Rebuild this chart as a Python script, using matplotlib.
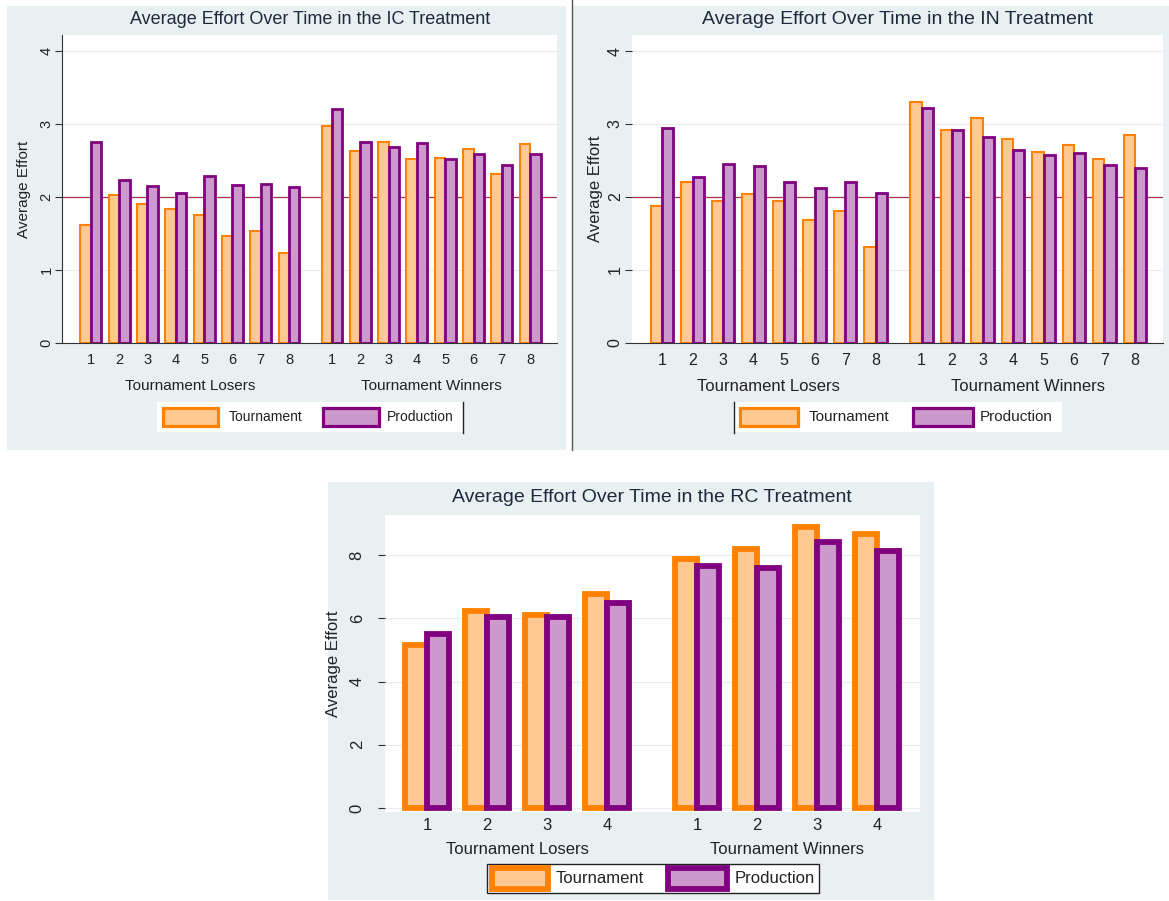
import matplotlib
matplotlib.use("Agg")
import matplotlib.pyplot as plt
import matplotlib.transforms as mtransforms
from matplotlib.patches import Rectangle
from matplotlib.lines import Line2D
import numpy as np

plt.rcParams["font.family"] = ["Liberation Sans", "DejaVu Sans"]

# ---- data -------------------------------------------------------------
periods_8 = [1, 2, 3, 4, 5, 6, 7, 8]
periods_4 = [1, 2, 3, 4]
group_names = ["Tournament Losers", "Tournament Winners"]
series_names = ["Tournament", "Production"]

ic_tourn_losers = [1.62, 2.03, 1.91, 1.84, 1.76, 1.46, 1.53, 1.23]
ic_prod_losers = [2.76, 2.23, 2.15, 2.06, 2.29, 2.16, 2.18, 2.14]
ic_tourn_winners = [2.98, 2.63, 2.76, 2.52, 2.54, 2.66, 2.32, 2.73]
ic_prod_winners = [3.21, 2.76, 2.69, 2.74, 2.52, 2.59, 2.44, 2.59]

in_tourn_losers = [1.88, 2.21, 1.94, 2.04, 1.94, 1.68, 1.81, 1.32]
in_prod_losers = [2.94, 2.28, 2.45, 2.42, 2.21, 2.13, 2.21, 2.05]
in_tourn_winners = [3.30, 2.92, 3.08, 2.79, 2.62, 2.71, 2.52, 2.85]
in_prod_winners = [3.22, 2.92, 2.82, 2.64, 2.57, 2.61, 2.44, 2.40]

rc_tourn_losers = [5.14, 6.24, 6.12, 6.77]
rc_prod_losers = [5.50, 6.03, 6.04, 6.48]
rc_tourn_winners = [7.87, 8.19, 8.89, 8.68]
rc_prod_winners = [7.65, 7.58, 8.40, 8.13]

ref_level = 2

# ---- styling ----------------------------------------------------------
BG = "#e9f0f2"
OR_FILL, OR_EDGE = "#ffc993", "#ff8205"
PU_FILL, PU_EDGE = "#cc99cc", "#800080"
REF_COLOR = "#a8324f"
TITLE_COLOR = "#1e2a3c"
TEXT_COLOR = "#222222"

W, H = 1169, 901
fig = plt.figure(figsize=(W / 100, H / 100), dpi=100)
fig.patch.set_facecolor("white")


def frect(x0, y0, x1, y1):
    return [x0 / W, 1 - y1 / H, (x1 - x0) / W, (y1 - y0) / H]


def fig_box(x0, y0, x1, y1, **kw):
    fig.patches.append(Rectangle((x0 / W, 1 - y1 / H), (x1 - x0) / W, (y1 - y0) / H,
                                 transform=fig.transFigure, **kw))


def fig_line(xs, ys, **kw):
    fig.lines.append(Line2D([x / W for x in xs], [1 - y / H for y in ys],
                            transform=fig.transFigure, **kw))


def fig_text(x, y, s, **kw):
    fig.text(x / W, 1 - y / H, s, **kw)


# panel backgrounds and divider (drawn underneath the axes)
fig_box(7, 6, 566, 450, facecolor=BG, edgecolor="none", zorder=-2)
fig_box(573, 6, 1169, 450, facecolor=BG, edgecolor="none", zorder=-2)
fig_box(328, 482, 934, 900, facecolor=BG, edgecolor="none", zorder=-2)
fig_line([572, 572], [0, 450], color="#555555", lw=1.0, zorder=-1)


def panel(rect, title, title_xy, tl, pl, tw, pw, periods, gap, xpad, ylim, yticks,
          ref, fs, lw_bar, ylabel_x, tick_pad, xtick_pad, show_left, show_bottom):
    ax = fig.add_axes(frect(*rect))
    ax.set_zorder(1)
    ax.set_facecolor("white")
    n = len(periods)
    xl = np.arange(n, dtype=float)
    xw = n - 1 + gap + np.arange(n, dtype=float)
    w = 0.37

    ax.set_axisbelow(True)
    ax.yaxis.grid(True, color="#ececec", lw=0.8)
    if ref is not None:
        ax.axhline(ref, color=REF_COLOR, lw=0.9, zorder=1.5)

    x_all = np.concatenate([xl, xw])
    t_all = list(tl) + list(tw)
    p_all = list(pl) + list(pw)
    ax.bar(x_all - w / 2, t_all, w, color=OR_FILL, edgecolor=OR_EDGE,
           linewidth=lw_bar[0], zorder=2)
    ax.bar(x_all + w / 2, p_all, w, color=PU_FILL, edgecolor=PU_EDGE,
           linewidth=lw_bar[1], zorder=3)

    ax.set_xlim(-xpad[0], xw[-1] + xpad[1])
    ax.set_ylim(*ylim)
    ax.set_yticks(yticks)
    ax.set_yticklabels([str(v) for v in yticks], rotation=90, va="center", ha="center",
                       fontsize=fs["tick"], color=TEXT_COLOR)
    ax.tick_params(axis="y", length=5, width=0.8, color="#333333", pad=tick_pad)
    ax.set_xticks(x_all)
    ax.set_xticklabels([str(p) for p in periods] * 2, fontsize=fs["tick"], color=TEXT_COLOR)
    ax.tick_params(axis="x", length=0, pad=xtick_pad)

    for side in ["top", "right"]:
        ax.spines[side].set_visible(False)
    ax.spines["left"].set_visible(show_left)
    ax.spines["left"].set_color("#333333")
    ax.spines["bottom"].set_visible(show_bottom)
    ax.spines["bottom"].set_color("#333333")
    ax.spines["bottom"].set_zorder(4)

    ax.set_ylabel("Average Effort", fontsize=fs["label"], color=TEXT_COLOR)
    ax.yaxis.set_label_coords(ylabel_x, 0.5)

    trans = mtransforms.blended_transform_factory(ax.transData, ax.transAxes)
    gy = fs["group_y"]
    ax.text(xl.mean(), gy, group_names[0], transform=trans, ha="center", va="center",
            fontsize=fs["label"], color=TEXT_COLOR)
    ax.text(xw.mean(), gy, group_names[1], transform=trans, ha="center", va="center",
            fontsize=fs["label"], color=TEXT_COLOR)

    fig_text(title_xy[0], title_xy[1], title, ha="center", va="center",
             fontsize=fs["title"], color=TITLE_COLOR)
    return ax


def legend(box, patch_boxes, text_x, lw, fs, border):
    x0, y0, x1, y1 = box
    fig_box(x0, y0, x1, y1, facecolor="white", edgecolor="none", zorder=2)
    if border == "full":
        fig_box(x0, y0, x1, y1, facecolor="none", edgecolor="#222222", lw=1.0, zorder=3)
    elif border == "right":
        fig_line([x1, x1], [y0, y1 + 1], color="#222222", lw=1.0, zorder=3)
    elif border == "left":
        fig_line([x0, x0], [y0, y1 + 1], color="#222222", lw=1.0, zorder=3)
    cy = (y0 + y1) / 2
    fills = [(OR_FILL, OR_EDGE), (PU_FILL, PU_EDGE)]
    for (px0, py0, px1, py1), (fc, ec), tx, name in zip(patch_boxes, fills, text_x, series_names):
        fig_box(px0, py0, px1, py1, facecolor=fc, edgecolor=ec, lw=lw, zorder=3)
        fig_text(tx, cy, name, ha="left", va="center", fontsize=fs, color=TEXT_COLOR, zorder=4)


# IC treatment
panel((62, 35, 557, 343), "Average Effort Over Time in the IC Treatment", (310, 20),
      ic_tourn_losers, ic_prod_losers, ic_tourn_winners, ic_prod_winners,
      periods_8, 1.52, (1.02, 0.95), (0, 4.22), [0, 1, 2, 3, 4], ref_level,
      {"tick": 10.5, "label": 11, "title": 13, "group_y": -0.14},
      (1.5, 2.0), -0.063, 6, 7, True, True)
legend((157, 402, 463, 432), [(163, 408, 218, 426), (323, 408, 379, 426)], [229, 387],
       2.3, 10, "right")

# IN treatment
panel((632, 35, 1163, 343), "Average Effort Over Time in the IN Treatment", (898, 20),
      in_tourn_losers, in_prod_losers, in_tourn_winners, in_prod_winners,
      periods_8, 1.51, (0.99, 0.92), (0, 4.22), [0, 1, 2, 3, 4], ref_level,
      {"tick": 11.5, "label": 12, "title": 14, "group_y": -0.14},
      (1.5, 2.0), -0.055, 7, 7, False, True)
legend((734, 402, 1062, 432), [(740, 408, 798, 426), (913, 408, 973, 426)], [809, 980],
       2.3, 11, "left")

# RC treatment
panel((385, 515, 920, 812), "Average Effort Over Time in the RC Treatment", (652, 497),
      rc_tourn_losers, rc_prod_losers, rc_tourn_winners, rc_prod_winners,
      periods_4, 1.5, (0.7, 0.72), (-0.13, 9.27), [0, 2, 4, 6, 8], None,
      {"tick": 12, "label": 12, "title": 14, "group_y": -0.125},
      (4.2, 4.2), -0.082, 15, 4, False, False)
legend((487, 864, 819, 893), [(492, 868, 548, 889), (668, 868, 727, 889)], [556, 735],
       4.2, 12, "full")

fig.savefig("out.png", dpi=100, facecolor="white")
